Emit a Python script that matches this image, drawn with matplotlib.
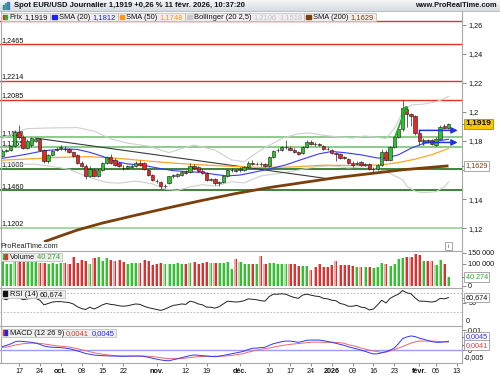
import matplotlib
matplotlib.use('Agg')
import matplotlib.pyplot as plt
import matplotlib.transforms as mtransforms
from matplotlib.patches import Rectangle
from matplotlib.colors import LinearSegmentedColormap
import numpy as np

plt.rcParams['font.family'] = ['Liberation Sans', 'DejaVu Sans']
FS = 5.2

# ---------------- data ----------------
opens = [1.1700, 1.1731, 1.1735, 1.1764, 1.1862, 1.1826, 1.1755, 1.1770, 1.1800, 1.1812,
         1.1737, 1.1660, 1.1703, 1.1740, 1.1750, 1.1745, 1.1743, 1.1722, 1.1704, 1.1652,
         1.1627, 1.1561, 1.1602, 1.1558, 1.1602, 1.1647, 1.1692, 1.1670, 1.1647, 1.1615,
         1.1613, 1.1623, 1.1629, 1.1652, 1.1647, 1.1602, 1.1568, 1.1528, 1.1516, 1.1489,
         1.1512, 1.1557, 1.1562, 1.1565, 1.1585, 1.1585, 1.1628, 1.1620, 1.1595, 1.1580,
         1.1535, 1.1540, 1.1510, 1.1515, 1.1560, 1.1600, 1.1598, 1.1600, 1.1600, 1.1620,
         1.1650, 1.1642, 1.1645, 1.1645, 1.1625, 1.1690, 1.1735, 1.1740, 1.1758, 1.1752,
         1.1740, 1.1725, 1.1715, 1.1760, 1.1792, 1.1778, 1.1776, 1.1768, 1.1748, 1.1740,
         1.1715, 1.1710, 1.1690, 1.1676, 1.1652, 1.1640, 1.1656, 1.1636, 1.1643, 1.1606,
         1.1606, 1.1636, 1.1726, 1.1672, 1.1758, 1.1828, 1.1880, 1.2020, 1.1986, 1.1974,
         1.1854, 1.1798, 1.1808, 1.1806, 1.1774, 1.1817, 1.1903, 1.1887]
highs = [1.1742, 1.1745, 1.1770, 1.1875, 1.1912, 1.1842, 1.1812, 1.1830, 1.1822, 1.1818,
         1.1742, 1.1710, 1.1740, 1.1762, 1.1770, 1.1765, 1.1752, 1.1730, 1.1712, 1.1660,
         1.1640, 1.1625, 1.1612, 1.1612, 1.1655, 1.1700, 1.1712, 1.1680, 1.1655, 1.1632,
         1.1635, 1.1640, 1.1660, 1.1668, 1.1655, 1.1610, 1.1575, 1.1540, 1.1525, 1.1505,
         1.1560, 1.1575, 1.1582, 1.1595, 1.1600, 1.1652, 1.1640, 1.1630, 1.1605, 1.1588,
         1.1548, 1.1548, 1.1528, 1.1565, 1.1608, 1.1615, 1.1610, 1.1618, 1.1628, 1.1660,
         1.1668, 1.1655, 1.1658, 1.1650, 1.1698, 1.1740, 1.1752, 1.1765, 1.1805, 1.1765,
         1.1750, 1.1732, 1.1768, 1.1805, 1.1805, 1.1790, 1.1786, 1.1775, 1.1758, 1.1748,
         1.1725, 1.1715, 1.1700, 1.1685, 1.1660, 1.1662, 1.1665, 1.1650, 1.1650, 1.1620,
         1.1645, 1.1745, 1.1735, 1.1768, 1.1835, 1.1890, 1.2082, 1.2040, 1.1995, 1.1980,
         1.1862, 1.1818, 1.1815, 1.1812, 1.1825, 1.1910, 1.1920, 1.1925]
lows = [1.1690, 1.1722, 1.1728, 1.1758, 1.1812, 1.1748, 1.1745, 1.1760, 1.1790, 1.1728,
        1.1646, 1.1652, 1.1695, 1.1728, 1.1740, 1.1732, 1.1715, 1.1690, 1.1645, 1.1618,
        1.1542, 1.1555, 1.1552, 1.1550, 1.1595, 1.1640, 1.1645, 1.1630, 1.1622, 1.1600,
        1.1605, 1.1612, 1.1620, 1.1630, 1.1600, 1.1562, 1.1528, 1.1512, 1.1468, 1.1480,
        1.1505, 1.1545, 1.1555, 1.1558, 1.1570, 1.1580, 1.1605, 1.1585, 1.1572, 1.1528,
        1.1522, 1.1500, 1.1490, 1.1508, 1.1552, 1.1590, 1.1585, 1.1590, 1.1595, 1.1612,
        1.1632, 1.1632, 1.1630, 1.1618, 1.1620, 1.1682, 1.1725, 1.1730, 1.1745, 1.1735,
        1.1718, 1.1705, 1.1710, 1.1752, 1.1775, 1.1768, 1.1765, 1.1740, 1.1735, 1.1708,
        1.1665, 1.1678, 1.1675, 1.1645, 1.1622, 1.1635, 1.1630, 1.1628, 1.1600, 1.1585,
        1.1600, 1.1630, 1.1662, 1.1665, 1.1752, 1.1820, 1.1872, 1.1895, 1.1905, 1.1840,
        1.1770, 1.1785, 1.1788, 1.1770, 1.1768, 1.1812, 1.1880, 1.1882]
closes = [1.1731, 1.1735, 1.1764, 1.1862, 1.1826, 1.1755, 1.1803, 1.1822, 1.1812, 1.1737,
          1.1660, 1.1703, 1.1733, 1.1748, 1.1756, 1.1743, 1.1722, 1.1698, 1.1652, 1.1627,
          1.1561, 1.1606, 1.1558, 1.1602, 1.1647, 1.1692, 1.1652, 1.1636, 1.1629, 1.1613,
          1.1625, 1.1627, 1.1647, 1.1636, 1.1606, 1.1568, 1.1534, 1.1523, 1.1489, 1.1494,
          1.1557, 1.1565, 1.1572, 1.1588, 1.1582, 1.1628, 1.1615, 1.1595, 1.1580, 1.1535,
          1.1538, 1.1510, 1.1520, 1.1560, 1.1600, 1.1603, 1.1595, 1.1606, 1.1620, 1.1650,
          1.1640, 1.1645, 1.1643, 1.1625, 1.1690, 1.1733, 1.1740, 1.1756, 1.1760, 1.1740,
          1.1725, 1.1712, 1.1760, 1.1792, 1.1780, 1.1776, 1.1772, 1.1748, 1.1744, 1.1715,
          1.1712, 1.1685, 1.1682, 1.1652, 1.1636, 1.1652, 1.1636, 1.1640, 1.1606, 1.1610,
          1.1636, 1.1726, 1.1672, 1.1758, 1.1828, 1.1880, 1.2030, 1.1986, 1.1975, 1.1854,
          1.1800, 1.1810, 1.1800, 1.1776, 1.1817, 1.1898, 1.1887, 1.1919]
volumes = [120000, 100000, 97000, 120000, 113000, 109000, 117000, 109000, 107000, 104000,
           104000, 100000, 104000, 100000, 104000, 104000, 97000, 130000, 104000, 117000,
           113000, 100000, 125000, 130000, 113000, 125000, 117000, 113000, 117000, 107000,
           100000, 104000, 106000, 104000, 117000, 113000, 93000, 100000, 106000, 100000,
           100000, 100000, 104000, 100000, 97000, 106000, 109000, 100000, 106000, 107000,
           104000, 106000, 104000, 104000, 109000, 76000, 120000, 109000, 100000, 97000,
           100000, 97000, 136000, 97000, 106000, 106000, 100000, 98000, 100000, 100000,
           98000, 89000, 89000, 91000, 71000, 87000, 97000, 87000, 84000, 96000,
           112000, 96000, 96000, 96000, 89000, 87000, 87000, 87000, 87000, 81000,
           87000, 106000, 100000, 92000, 100000, 120000, 125000, 133000, 133000, 146000,
           138000, 114000, 112000, 114000, 96000, 117000, 100000, 40274]
rsi = [59, 56, 61, 65, 60, 56, 58, 59, 59, 55, 45, 48, 51, 52, 52, 51, 50, 47, 41, 37,
       35, 40, 36, 40, 45, 48, 46, 45, 43, 42, 43, 45, 47, 46, 42, 39, 37, 35, 33, 36,
       40, 44, 45, 47, 46, 53, 51, 47, 45, 40, 40, 38, 41, 47, 53, 52, 51, 52, 54, 58,
       57, 56, 54, 53, 63, 68, 68, 69, 68, 64, 61, 59, 66, 68, 66, 64, 63, 59, 58, 55,
       54, 48, 46, 42, 42, 44, 40, 39, 34, 36, 45, 55, 49, 59, 64, 68, 76, 71, 69, 60,
       53, 53, 52, 51, 53, 59, 58, 60.674]
macd = [0.0019, 0.0025, 0.0032, 0.0042, 0.0046, 0.0044, 0.0042, 0.0040, 0.0036, 0.0030,
        0.0022, 0.0018, 0.0016, 0.0015, 0.0014, 0.0012, 0.0009, 0.0004, -0.0002, -0.0008,
        -0.0015, -0.0018, -0.0022, -0.0024, -0.0025, -0.0026, -0.0027, -0.0027, -0.0028, -0.0028,
        -0.0028, -0.0027, -0.0027, -0.0027, -0.0029, -0.0033, -0.0038, -0.0042, -0.0046, -0.0049,
        -0.0050, -0.0045, -0.0040, -0.0035, -0.0030, -0.0025, -0.0022, -0.0023, -0.0025, -0.0027,
        -0.0029, -0.0030, -0.0028, -0.0024, -0.0020, -0.0016, -0.0012, -0.0008, -0.0003, 0.0005,
        0.0011, 0.0012, 0.0014, 0.0016, 0.0025, 0.0033, 0.0038, 0.0043, 0.0046, 0.0046,
        0.0043, 0.0040, 0.0044, 0.0050, 0.0051, 0.0051, 0.0051, 0.0048, 0.0044, 0.0040,
        0.0035, 0.0030, 0.0025, 0.0018, 0.0013, 0.0008, 0.0002, -0.0004, -0.0011, -0.0017,
        -0.0016, -0.0011, -0.0006, 0.0002, 0.0012, 0.0033, 0.0058, 0.0066, 0.0071, 0.0068,
        0.0060, 0.0055, 0.0049, 0.0043, 0.0040, 0.0040, 0.0042, 0.0045]
macd_signal = [0.0015, 0.0017, 0.0021, 0.0026, 0.0030, 0.0033, 0.0035, 0.0036, 0.0036, 0.0035,
               0.0032, 0.0029, 0.0026, 0.0023, 0.0021, 0.0019, 0.0017, 0.0013, 0.0009, 0.0004,
               -0.0001, -0.0006, -0.0011, -0.0015, -0.0018, -0.0021, -0.0023, -0.0025, -0.0026, -0.0027,
               -0.0027, -0.0027, -0.0027, -0.0027, -0.0027, -0.0028, -0.0030, -0.0032, -0.0035, -0.0038,
               -0.0040, -0.0040, -0.0040, -0.0039, -0.0037, -0.0035, -0.0032, -0.0030, -0.0029, -0.0028,
               -0.0028, -0.0028, -0.0028, -0.0027, -0.0026, -0.0024, -0.0021, -0.0018, -0.0014, -0.0008,
               -0.0003, 0.0002, 0.0006, 0.0009, 0.0012, 0.0016, 0.0020, 0.0024, 0.0027, 0.0030,
               0.0032, 0.0034, 0.0036, 0.0038, 0.0040, 0.0041, 0.0041, 0.0040, 0.0040, 0.0040,
               0.0039, 0.0038, 0.0035, 0.0028, 0.0024, 0.0019, 0.0012, 0.0007, 0.0002, -0.0002,
               -0.0006, -0.0009, -0.0008, -0.0002, 0.0004, 0.0012, 0.0019, 0.0028, 0.0036, 0.0042,
               0.0046, 0.0046, 0.0046, 0.0046, 0.0045, 0.0043, 0.0042, 0.0041]

sma20_idx = [0, 5, 10, 15, 18, 21, 24, 27, 30, 34, 38, 41, 45, 48, 51, 54, 57, 60, 64, 68,
             72, 76, 79, 82, 86, 90, 92, 95, 98, 101, 104, 107]
sma20_val = [1.1681, 1.1705, 1.1733, 1.1745, 1.1742, 1.1722, 1.1695, 1.1660, 1.1643, 1.1632,
             1.1610, 1.1596, 1.1588, 1.1584, 1.1570, 1.1560, 1.1566, 1.1583, 1.1608, 1.1636,
             1.1675, 1.1712, 1.1728, 1.1720, 1.1705, 1.1683, 1.1682, 1.1705, 1.1750, 1.1783,
             1.1798, 1.1812]
sma50_idx = [0, 7, 14, 21, 28, 35, 42, 49, 56, 63, 70, 77, 84, 91, 95, 99, 103, 107]
sma50_val = [1.1668, 1.1678, 1.1688, 1.1692, 1.1680, 1.1662, 1.1646, 1.1634, 1.1624, 1.1618,
             1.1622, 1.1634, 1.1631, 1.1636, 1.1652, 1.1675, 1.1706, 1.1748]
sma200_idx = [10, 14, 18, 24, 32, 40, 48, 56, 64, 72, 80, 88, 96, 104, 107]
sma200_val = [1.1107, 1.1148, 1.1188, 1.1236, 1.1290, 1.1342, 1.1392, 1.1439, 1.1480, 1.1514,
              1.1548, 1.1575, 1.1602, 1.1622, 1.1629]
bb_up_idx = [0, 3, 6, 12, 18, 22, 26, 30, 35, 40, 43, 46, 51, 55, 58, 62, 67, 71, 74, 77,
             81, 84, 87, 92, 94, 96, 98, 101, 104, 106, 107]
bb_up_val = [1.1815, 1.1860, 1.1885, 1.1890, 1.1892, 1.1868, 1.1815, 1.1785, 1.1765, 1.1720,
             1.1748, 1.1772, 1.1738, 1.1670, 1.1658, 1.1738, 1.1817, 1.1851, 1.1855, 1.1839,
             1.1827, 1.1820, 1.1835, 1.1817, 1.1885, 1.1997, 1.2047, 1.2054, 1.2070, 1.2090,
             1.2106]
bb_lo_idx = [0, 4, 8, 12, 16, 19, 22, 25, 28, 32, 36, 39, 42, 45, 48, 51, 55, 58, 62, 67,
             71, 75, 79, 83, 87, 92, 96, 97, 99, 101, 104, 106, 107]
bb_lo_val = [1.1655, 1.1640, 1.1640, 1.1625, 1.1605, 1.1570, 1.1540, 1.1515, 1.1510, 1.1525,
             1.1505, 1.1470, 1.1460, 1.1485, 1.1500, 1.1490, 1.1520, 1.1512, 1.1560, 1.1580,
             1.1600, 1.1622, 1.1630, 1.1615, 1.1624, 1.1590, 1.1534, 1.1489, 1.1455, 1.1444,
             1.1452, 1.1485, 1.1518]
trend_idx = [8, 78]
trend_val = [1.1820, 1.1541]

red_levels = [1.2625, 1.2465, 1.2214, 1.2085]
red_labels = ['', '1,2465', '1,2214', '1,2085']
green_levels = [1.1825, 1.1757]
green_labels = ['1,1820', '1,1755']
dkgreen_levels = [1.1608, 1.1460]
dkgreen_labels = ['1,1608', '1,1460']
ltgreen_levels = [1.1202]
ltgreen_labels = ['1,1202']

tick_idx = [4, 9, 14, 19, 24, 29, 37, 44, 49, 57, 64, 69, 74, 79, 84, 89, 94, 100, 104, 109]
tick_labels = ['17', '24', 'oct.', '08', '15', '22', 'nov.', '12', '19', 'déc.', '10', '17',
               '24', '2026', '09', '16', '23', 'févr.', '06', '13']
bold_labels = ['oct.', 'nov.', 'déc.', '2026', 'févr.']
price_ticks = [1.12, 1.14, 1.16, 1.18, 1.20, 1.22, 1.24, 1.26]
price_tick_labels = ['1,12', '1,14', '', '1,18', '1,2', '1,22', '1,24', '1,26']

# user drawn arrows (index, price)
green_arrow = [(94.2, 1.1828), (97.0, 1.2047)]
blue_arrows = [[(100.0, 1.1873), (109.2, 1.1873)], [(100.9, 1.1790), (109.2, 1.1790)]]

# ---------------- figure ----------------
W, H = 500, 375
fig = plt.figure(figsize=(W / 100, H / 100), dpi=100)
fig.patch.set_facecolor('white')


def add_ax(x0, y0, x1, y1):
    a = fig.add_axes([x0 / W, 1 - y1 / H, (x1 - x0) / W, (y1 - y0) / H])
    a.set_facecolor('none')
    return a


XLIM = (-0.55, 110.24)
GRID = '#a8a8a8'
ax = add_ax(0, 11, 462, 242)
axv = add_ax(0, 251, 462, 288)
axr = add_ax(0, 288, 462, 325.7)
axm = add_ax(0, 325.7, 462, 363)

for a in (ax, axv, axr, axm):
    a.set_xlim(*XLIM)
    for s in a.spines.values():
        s.set_color(GRID)
        s.set_linewidth(0.8)
    a.spines['left'].set_visible(False)
    a.spines['bottom'].set_visible(False)
    a.yaxis.tick_right()
    a.tick_params(axis='y', direction='out', length=3, width=0.6, color='#777777',
                  labelsize=FS, pad=1.5, labelcolor='#111111')
    a.tick_params(axis='x', bottom=False, labelbottom=False, top=False)
ax.spines['top'].set_visible(False)

# ---- main price panel ----
ax.set_ylim(1.11058, 1.26934)
ax.set_yticks(price_ticks)
ax.set_yticklabels(price_tick_labels)

lab_tr = mtransforms.blended_transform_factory(ax.transAxes, ax.transData)
for lv, lb in zip(red_levels, red_labels):
    ax.axhline(lv, color='#e8302a', lw=1.0, zorder=1.5)
    if lb:
        ax.text(0.004, lv + 0.0004, lb, transform=lab_tr, fontsize=FS, va='bottom', color='#111', zorder=2)
for lv, lb in zip(green_levels, green_labels):
    ax.axhline(lv, color='#6cbf6c', lw=1.1, zorder=1.5)
    ax.text(0.004, lv + 0.0004, lb, transform=lab_tr, fontsize=FS, va='bottom', color='#111', zorder=2)
for lv, lb in zip(dkgreen_levels, dkgreen_labels):
    ax.axhline(lv, color='#1d6e1d', lw=1.2, zorder=1.5)
    ax.text(0.004, lv + 0.0004, lb, transform=lab_tr, fontsize=FS, va='bottom', color='#111', zorder=2)
for lv, lb in zip(ltgreen_levels, ltgreen_labels):
    ax.axhline(lv, color='#a6d6a6', lw=1.4, zorder=1.5)
    ax.text(0.004, lv + 0.0004, lb, transform=lab_tr, fontsize=FS, va='bottom', color='#111', zorder=2)

ax.plot(bb_up_idx, bb_up_val, color='#cfcfcf', lw=0.8, zorder=2.5)
ax.plot(bb_lo_idx, bb_lo_val, color='#cfcfcf', lw=0.8, zorder=2.5)
ax.plot(trend_idx, trend_val, color='#3a3a3a', lw=0.8, zorder=2.6)
ax.plot(sma50_idx, sma50_val, color='#ffa526', lw=0.9, zorder=2.7)
ax.plot(sma20_idx, sma20_val, color='#3838ff', lw=0.8, zorder=2.8)
ax.plot(sma200_idx, sma200_val, color='#7b3f0c', lw=2.0, zorder=2.9, solid_capstyle='butt')

BW = 0.8
for i, (o, h, l, c) in enumerate(zip(opens, highs, lows, closes)):
    up = c >= o
    ax.vlines(i, l, h, color='#222222', lw=0.5, zorder=4)
    ax.add_patch(Rectangle((i - BW / 2, min(o, c)), BW, max(abs(c - o), 0.00012),
                           facecolor='#2fc22f' if up else '#ea2424', edgecolor='#1a1a1a',
                           lw=0.4, zorder=5))

(gx0, gy0), (gx1, gy1) = green_arrow
ax.annotate('', xy=(gx1, gy1), xytext=(gx0, gy0),
            arrowprops=dict(arrowstyle='-|>', color='#22a822', lw=1.3, mutation_scale=7,
                            shrinkA=0, shrinkB=0), zorder=6)
for (bx0, by0), (bx1, by1) in blue_arrows:
    ax.vlines(bx0, by0 - 0.0018, by0, color='#2233dd', lw=1.0, zorder=6)
    ax.annotate('', xy=(bx1, by1), xytext=(bx0, by0),
                arrowprops=dict(arrowstyle='-|>', color='#2233dd', lw=1.1, mutation_scale=9,
                                shrinkA=0, shrinkB=0), zorder=6)

# ---- volume panel ----
axv.set_ylim(-9300, 158000)
axv.set_yticks([0, 100000, 150000])
axv.set_yticklabels(['0', '100 000', '150 000'])
for i, (o, c, v) in enumerate(zip(opens, closes, volumes)):
    up = c >= o
    light = '#a6e6a0' if up else '#f2a8a8'
    dark = '#33c033' if up else '#d83232'
    axv.add_patch(Rectangle((i - 0.37, 0), 0.3, v, facecolor=light, edgecolor='none', zorder=3))
    axv.add_patch(Rectangle((i - 0.07, 0), 0.44, v, facecolor=dark, edgecolor='none', zorder=3))

# ---- RSI panel ----
axr.set_ylim(0, 81.4)
axr.set_yticks([50])
axr.set_yticklabels(['50'])
axr.axhline(70, color='#b0b0b0', lw=0.6, ls=(0, (2, 2)), zorder=1)
axr.axhline(30, color='#b0b0b0', lw=0.6, ls=(0, (2, 2)), zorder=1)
axr.plot(range(len(rsi)), rsi, color='#222222', lw=0.7, zorder=3)

# ---- MACD panel ----
axm.set_ylim(-0.0060976, 0.0120976)
axm.set_yticks([0.01, 0.0])
axm.set_yticklabels(['0,01', '0'])
axm.axhline(0, color='#9c9cff', lw=1.0, zorder=1)
axm.plot(range(len(macd_signal)), macd_signal, color='#f06666', lw=0.7, zorder=3)
axm.plot(range(len(macd)), macd, color='#3434ff', lw=0.7, zorder=3)
axm.spines['bottom'].set_visible(True)
axm.set_xticks(tick_idx)
axm.set_xticklabels(tick_labels)
axm.tick_params(axis='x', bottom=True, labelbottom=True, direction='out', length=2.5,
                width=0.6, color='#777777', labelsize=FS, pad=1.2, labelcolor='#111111')
for t in axm.get_xticklabels():
    if t.get_text() in bold_labels:
        t.set_fontweight('bold')

# ---------------- overlay (header, legends, value boxes) ----------------
ov = fig.add_axes([0, 0, 1, 1])
ov.set_zorder(10)
ov.patch.set_alpha(0)
ov.axis('off')
cmap = LinearSegmentedColormap.from_list('hdr', ['#f5f7f9', '#d6dce1'])
ov.imshow(np.linspace(0, 1, 30).reshape(-1, 1), extent=(0, W, 11, 0), cmap=cmap,
          aspect='auto', zorder=1)
ov.set_xlim(0, W)
ov.set_ylim(H, 0)
ov.plot([0, W], [11, 11], color='#aab2ba', lw=0.6, zorder=2)
ov.plot([0.6, 0.6], [11, 363], color=GRID, lw=0.8, zorder=2)
ov.plot([462.4, 462.4], [242, 251], color=GRID, lw=0.8, zorder=2)

fig.canvas.draw()
renderer = fig.canvas.get_renderer()


def put(x, y, s, color='#111111', weight='normal', size=FS, ha='left', z=30, **kw):
    t = ov.text(x, y, s, color=color, fontsize=size, fontweight=weight, va='center', ha=ha,
                zorder=z, **kw)
    return t, t.get_window_extent(renderer).width


# header icon + title
ov.add_patch(Rectangle((2.5, 5), 1.4, 4, color='#3a7bd5', zorder=5))
ov.add_patch(Rectangle((4.8, 3), 1.4, 6, color='#4bb34b', zorder=5))
ov.add_patch(Rectangle((7.1, 1.5), 1.4, 7.5, color='#3a7bd5', zorder=5))
put(14, 5.6, 'Spot EUR/USD Journalier 1,1919 +0,26 % 11 févr. 2026, 10:37:20', weight='bold', size=5.5)
put(497, 5.6, 'www.ProRealTime.com', weight='bold', size=5.3, ha='right')


def legend_box(x, y0, y1, icon, parts, gap=2.2, size=FS):
    yc = (y0 + y1) / 2
    isz = 4.6
    ix = x + 2.0
    n = len(icon)
    for k, col in enumerate(icon):
        ov.add_patch(Rectangle((ix + k * isz / n, yc - isz / 2), isz / n, isz, color=col, zorder=28))
    tx = ix + isz + 2.2
    for s, col in parts:
        _, w = put(tx, yc + 0.3, s, color=col, size=size)
        tx += w + gap
    x1 = tx - gap + 2.0
    ov.add_patch(Rectangle((x, y0), x1 - x, y1 - y0, facecolor='#efefef', edgecolor='#c2c2c2',
                           lw=0.6, zorder=25))
    return x1


xx = 0.8
LS = 5.4
xx = legend_box(xx, 12.6, 21.2, ['#e03030', '#30b030'], [('Prix', '#111'), ('1,1919', '#111')], size=LS)
xx = legend_box(xx, 12.6, 21.2, ['#2020ff'], [('SMA (20)', '#111'), ('1,1812', '#2020ff')], size=LS)
xx = legend_box(xx, 12.6, 21.2, ['#ff9900'], [('SMA (50)', '#111'), ('1,1748', '#ff9900')], size=LS)
xx = legend_box(xx, 12.6, 21.2, ['#c8c8c8'], [('Bollinger (20 2,5)', '#111'), ('1,2106', '#c0c0c0'),
                                              ('1,1518', '#c0c0c0')], size=LS)
xx = legend_box(xx, 12.6, 21.2, ['#7b3f0c'], [('SMA (200)', '#111'), ('1,1629', '#7b3f0c')], size=LS)

legend_box(0.8, 252.5, 261, ['#30b030', '#e03030'], [('Volume', '#111'), ('40 274', '#2aaa2a')], size=LS)
legend_box(0.8, 289.5, 298, ['#111111'], [('RSI (14)', '#111'), ('60,674', '#111')], size=LS)
legend_box(0.8, 328.5, 337, ['#e03030', '#2020ff'], [('MACD (12 26 9)', '#111'), ('0,0041', '#e03030'),
                                                     ('0,0045', '#2020ff')], size=LS)

put(0.5, 246.8, 'ProRealTime.com', color='#222222', size=FS)
ov.add_patch(Rectangle((444.5, 242.3), 7.5, 7.5, facecolor='white', edgecolor='#999999', lw=0.6, zorder=25))
put(448.3, 246.2, 'i', color='#555555', size=4.5, ha='center')

# right side value boxes
tr_main = mtransforms.blended_transform_factory(ov.transData, ax.transData)
tr_vol = mtransforms.blended_transform_factory(ov.transData, axv.transData)
tr_rsi = mtransforms.blended_transform_factory(ov.transData, axr.transData)


def value_box(y, s, tr, color, fc='white', ec='#9a9a9a', weight='normal', size=FS):
    ov.plot([462.4, 465], [y, y], transform=tr, color='#777777', lw=0.6, zorder=29)
    ov.text(465.5, y, s, transform=tr, color=color, fontsize=size, fontweight=weight,
            va='center', ha='left', zorder=31,
            bbox=dict(boxstyle='square,pad=0.18', fc=fc, ec=ec, lw=0.6))


value_box(closes[-1], '1,1919', tr_main, '#111111', fc='#f7c600', ec='#b08a00', weight='bold', size=6.0)
value_box(sma200_val[-1], '1,1629', tr_main, '#7b3f0c')
value_box(volumes[-1], '40 274', tr_vol, '#2aaa2a')
value_box(rsi[-1], '60,674', tr_rsi, '#111111')
value_box(336.7, '0,0045', ov.transData, '#2a2aff')
value_box(345.2, '0,0041', ov.transData, '#e03b3b')

put(466, 321.3, '0', color='#111111')
put(464, 357.6, '-0,005', color='#111111')

fig.savefig('out.png', dpi=100)
